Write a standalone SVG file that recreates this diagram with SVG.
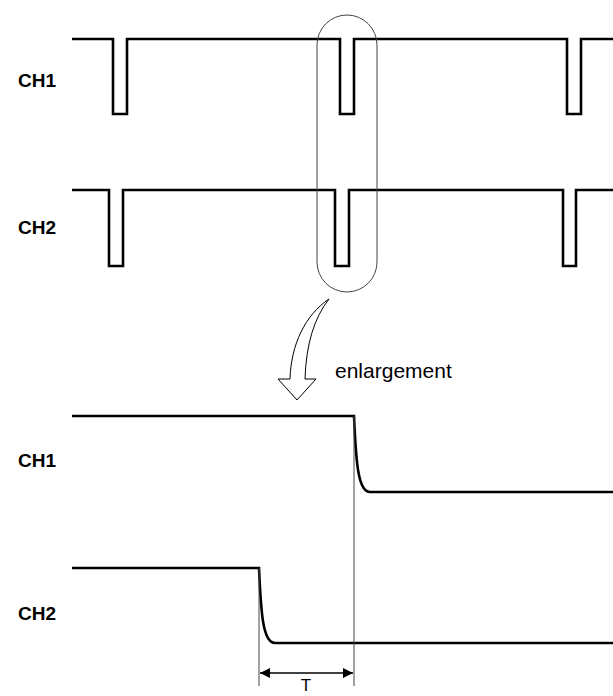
<svg xmlns="http://www.w3.org/2000/svg" width="613" height="696" viewBox="0 0 613 696">
<style>
.sig{fill:none;stroke:#000;stroke-width:2.6;stroke-linejoin:miter}
.thin{fill:none;stroke:#444;stroke-width:1}
.lbl{font-family:"Liberation Sans",Arial,sans-serif;font-size:19px;font-weight:bold;fill:#000}
.txt{font-family:"Liberation Sans",Arial,sans-serif;font-size:21px;fill:#000}
</style>
<defs>
<marker id="ah" viewBox="0 0 10 10" refX="10" refY="5" markerWidth="10" markerHeight="10" markerUnits="userSpaceOnUse" orient="auto-start-reverse">
<path d="M0,0 L10,5 L0,10 Z" fill="#000"/>
</marker>
</defs>
<rect width="613" height="696" fill="#fff"/>
<g id="ch1-top">
<text class="lbl" x="18" y="87">CH1</text>
<path class="sig" d="M72,39 H113 V114 H127 V39 H340 V114 H354 V39 H567 V114 H581 V39 H613"/>
</g>
<g id="ch2-top">
<text class="lbl" x="18" y="234">CH2</text>
<path class="sig" d="M72,190 H109 V266 H123 V190 H335 V266 H349 V190 H563 V266 H576 V190 H613"/>
</g>
<g id="highlight">
<rect x="317" y="15" width="60" height="277" rx="30" ry="30" class="thin"/>
</g>
<g id="enlarge-arrow">
<path d="M329,299 C305,315 291,345 290,379 L278,379 L297,400 L316,379 L305,379 C306,345 314,318 329,299 Z" fill="#fff" stroke="#000" stroke-width="1"/>
<text class="txt" x="335" y="378">enlargement</text>
</g>
<g id="ch1-bottom">
<text class="lbl" x="18" y="467">CH1</text>
<path class="sig" d="M72,416 H354 C356,462 358,492 370,492 H613"/>
</g>
<g id="ch2-bottom">
<text class="lbl" x="18" y="620">CH2</text>
<path class="sig" d="M72,568 H259 C261,614 263,643 275,643 H613"/>
</g>
<g id="connectors">
<line class="thin" x1="354" y1="416" x2="354" y2="686"/>
<line class="thin" x1="259" y1="568" x2="259" y2="686"/>
<line x1="260" y1="673" x2="353" y2="673" stroke="#000" stroke-width="1.3" marker-start="url(#ah)" marker-end="url(#ah)"/>
<text class="txt" x="306" y="691" text-anchor="middle" style="font-size:17px">T</text>
</g>
</svg>
